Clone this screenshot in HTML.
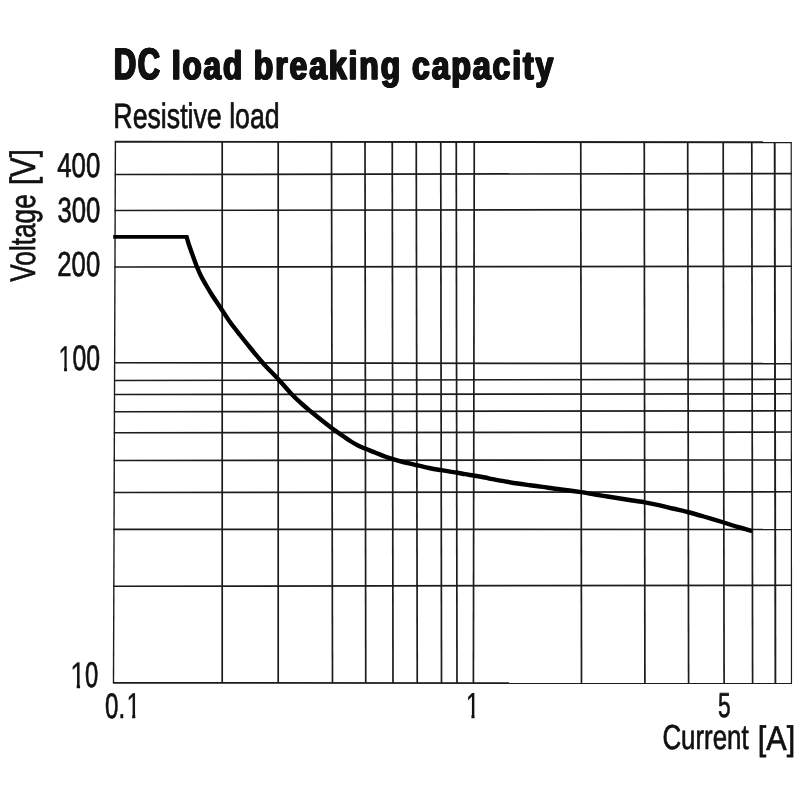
<!DOCTYPE html>
<html><head><meta charset="utf-8"><title>DC load breaking capacity</title>
<style>
html,body{margin:0;padding:0;background:#fff;}
body{width:800px;height:800px;overflow:hidden;font-family:"Liberation Sans",sans-serif;}
svg{display:block;}
text{font-family:"Liberation Sans",sans-serif;fill:#111;stroke:#111;vector-effect:non-scaling-stroke;stroke-linejoin:round;text-rendering:geometricPrecision;}
#wrap{will-change:transform;width:800px;height:800px;}
</style></head><body>
<div id="wrap"><svg width="800" height="800" viewBox="0 0 800 800">
<defs><clipPath id="one"><rect x="-10" y="-95" width="80" height="86"/><rect x="23.45" y="-10" width="12.25" height="14"/></clipPath></defs>
<rect width="800" height="800" fill="#fff"/>
<g stroke="#1c1c1c" fill="none">
<line x1="115.4" y1="141.75" x2="113.5" y2="682.90" stroke-width="1.4"/>
<line x1="222.2" y1="141.82" x2="222.2" y2="682.95" stroke-width="1.7"/>
<line x1="278.2" y1="141.86" x2="278.2" y2="682.97" stroke-width="1.7"/>
<line x1="331.5" y1="141.89" x2="332.5" y2="683.00" stroke-width="1.7"/>
<line x1="365.0" y1="141.92" x2="365.75" y2="683.01" stroke-width="1.7"/>
<line x1="392.25" y1="141.93" x2="393.0" y2="683.02" stroke-width="1.7"/>
<line x1="416.25" y1="141.95" x2="417.25" y2="683.03" stroke-width="1.7"/>
<line x1="440.75" y1="141.97" x2="441.5" y2="683.04" stroke-width="1.7"/>
<line x1="456.25" y1="141.98" x2="457.0" y2="683.05" stroke-width="1.7"/>
<line x1="474.25" y1="141.99" x2="473.4" y2="683.06" stroke-width="1.7"/>
<line x1="580.75" y1="142.06" x2="581.5" y2="683.11" stroke-width="1.7"/>
<line x1="644.25" y1="142.10" x2="644.9" y2="683.14" stroke-width="1.7"/>
<line x1="687.7" y1="142.13" x2="688.6" y2="683.15" stroke-width="1.7"/>
<line x1="723.2" y1="142.15" x2="724.1" y2="683.17" stroke-width="1.7"/>
<line x1="751.8" y1="142.17" x2="752.6" y2="683.18" stroke-width="1.7"/>
<line x1="774.7" y1="142.19" x2="775.4" y2="683.19" stroke-width="1.9"/>
<line x1="791.2" y1="142.20" x2="791.5" y2="683.20" stroke-width="1.2"/>
<line x1="114.80" y1="141.75" x2="791.70" y2="142.2" stroke-width="1.9"/>
<line x1="114.69" y1="174.5" x2="791.72" y2="173.6" stroke-width="1.7"/>
<line x1="114.56" y1="210.5" x2="791.74" y2="209.4" stroke-width="1.7"/>
<line x1="114.36" y1="267.0" x2="791.77" y2="266.25" stroke-width="1.7"/>
<line x1="114.02" y1="362.75" x2="791.82" y2="363.7" stroke-width="1.7"/>
<line x1="113.96" y1="380.5" x2="791.83" y2="379.25" stroke-width="1.7"/>
<line x1="113.91" y1="394.5" x2="791.84" y2="393.75" stroke-width="1.7"/>
<line x1="113.85" y1="411.75" x2="791.85" y2="410.75" stroke-width="1.7"/>
<line x1="113.78" y1="432.75" x2="791.86" y2="432.0" stroke-width="1.7"/>
<line x1="113.68" y1="460.5" x2="791.88" y2="460.0" stroke-width="1.7"/>
<line x1="113.57" y1="492.5" x2="791.89" y2="491.75" stroke-width="1.7"/>
<line x1="113.44" y1="529.4" x2="791.91" y2="529.5" stroke-width="1.7"/>
<line x1="113.24" y1="586.25" x2="791.95" y2="585.25" stroke-width="1.7"/>
<line x1="112.90" y1="682.9" x2="792.00" y2="683.2" stroke-width="1.8"/>
</g>
<path d="M113.2,236.9 L187.9,236.9" fill="none" stroke="#000" stroke-width="3.7"/>
<path d="M186.2,235.5 C186.38,236.13 186.83,237.72 187.3,239.3 C187.77,240.88 188.30,242.88 189,245 C189.70,247.12 190.67,249.67 191.5,252 C192.33,254.33 193.08,256.50 194,259 C194.92,261.50 195.83,264.17 197,267 C198.17,269.83 199.50,273.00 201,276 C202.50,279.00 204.17,281.83 206,285 C207.83,288.17 210.00,291.83 212,295 C214.00,298.17 216.33,301.50 218,304 C219.67,306.50 220.00,307.00 222,310 C224.00,313.00 227.00,317.83 230,322 C233.00,326.17 236.67,330.75 240,335 C243.33,339.25 246.33,343.00 250,347.5 C253.67,352.00 259.17,358.67 262,362 C264.83,365.33 264.17,364.50 267,367.5 C269.83,370.50 274.83,375.50 279,380 C283.17,384.50 288.17,390.50 292,394.5 C295.83,398.50 298.75,401.08 302,404 C305.25,406.92 308.17,409.25 311.5,412 C314.83,414.75 318.42,417.67 322,420.5 C325.58,423.33 329.50,426.42 333,429 C336.50,431.58 340.00,433.92 343,436 C346.00,438.08 348.33,439.83 351,441.5 C353.67,443.17 356.58,444.78 359,446 C361.42,447.22 362.83,447.72 365.5,448.8 C368.17,449.88 371.75,451.22 375,452.5 C378.25,453.78 382.00,455.38 385,456.5 C388.00,457.62 390.00,458.28 393,459.2 C396.00,460.12 399.33,461.07 403,462 C406.67,462.93 410.67,463.80 415,464.8 C419.33,465.80 424.58,467.10 429,468 C433.42,468.90 436.92,469.45 441.5,470.2 C446.08,470.95 452.58,471.83 456.5,472.5 C460.42,473.17 462.08,473.68 465,474.2 C467.92,474.72 470.67,475.05 474,475.6 C477.33,476.15 481.92,476.90 485,477.5 C488.08,478.10 489.17,478.55 492.5,479.2 C495.83,479.85 500.83,480.68 505,481.4 C509.17,482.12 513.33,482.86 517.5,483.5 C521.67,484.14 525.83,484.68 530,485.25 C534.17,485.82 538.33,486.32 542.5,486.9 C546.67,487.48 550.83,488.19 555,488.75 C559.17,489.31 563.12,489.68 567.5,490.25 C571.88,490.82 576.67,491.49 581.25,492.2 C585.83,492.91 590.62,493.78 595,494.5 C599.38,495.22 603.33,495.83 607.5,496.5 C611.67,497.17 615.83,497.83 620,498.5 C624.17,499.17 628.33,499.87 632.5,500.5 C636.67,501.13 640.83,501.58 645,502.3 C649.17,503.02 652.92,503.77 657.5,504.8 C662.08,505.83 667.33,507.26 672.5,508.5 C677.67,509.74 683.29,510.92 688.5,512.25 C693.71,513.58 697.88,514.79 703.75,516.5 C709.62,518.21 718.12,520.77 723.75,522.5 C729.38,524.23 732.73,525.48 737.5,526.9 C742.27,528.32 749.92,530.32 752.4,531" fill="none" stroke="#000" stroke-width="4.4" stroke-linejoin="round" stroke-linecap="butt"/>
<g>
<g id="t1"><text transform="translate(113.86,78.94) scale(0.7004,1)" font-size="44.06" font-weight="bold" stroke-width="1.1" letter-spacing="2.4">DC</text></g><use href="#t1" x="-0.55"/><use href="#t1" x="0.55"/>
<g id="t2"><text transform="translate(171.83,79.15) scale(0.7963,1)" font-size="39.46" font-weight="bold" stroke-width="1.1" letter-spacing="2.4">load</text></g><use href="#t2" x="-0.55"/><use href="#t2" x="0.55"/>
<g id="t3"><text transform="translate(253.81,79.15) scale(0.8075,1)" font-size="39.46" font-weight="bold" stroke-width="1.1" letter-spacing="2.4">breaking</text></g><use href="#t3" x="-0.55"/><use href="#t3" x="0.55"/>
<g id="t4"><text transform="translate(412.06,79.15) scale(0.8083,1)" font-size="39.46" font-weight="bold" stroke-width="1.1" letter-spacing="2.4">capacity</text></g><use href="#t4" x="-0.55"/><use href="#t4" x="0.55"/>
<text transform="translate(113.33,127.75) scale(0.7584,1)" font-size="35.24" font-weight="normal" stroke-width="0.7">Resistive load</text>
<text transform="translate(57.20,177.25) scale(0.7534,1)" font-size="34.29" font-weight="normal" stroke-width="0.7">400</text>
<text transform="translate(57.41,221.79) scale(0.7331,1)" font-size="35.06" font-weight="normal" stroke-width="0.7">300</text>
<text transform="translate(57.35,275.94) scale(0.7396,1)" font-size="34.71" font-weight="normal" stroke-width="0.7">200</text>
<g transform="translate(58.50,370.62) scale(0.2380,0.3617)" clip-path="url(#one)"><text font-size="100" stroke-width="0.7">1</text></g>
<text transform="translate(72.50,370.29) scale(0.7069,1)" font-size="35.13" font-weight="normal" stroke-width="0.7">00</text>
<g transform="translate(70.37,687.78) scale(0.2710,0.3698)" clip-path="url(#one)"><text font-size="100" stroke-width="0.7">1</text></g>
<text transform="translate(85.00,687.23) scale(0.6654,1)" font-size="35.77" font-weight="normal" stroke-width="0.7">0</text>
<text transform="translate(104.98,717.64) scale(0.6863,1)" font-size="35.20" font-weight="normal" stroke-width="0.7">0.</text>
<g transform="translate(126.38,718.02) scale(0.2487,0.3617)" clip-path="url(#one)"><text font-size="100" stroke-width="0.7">1</text></g>
<g transform="translate(465.63,718.02) scale(0.2487,0.3624)" clip-path="url(#one)"><text font-size="100" stroke-width="0.7">1</text></g>
<text transform="translate(718.05,717.29) scale(0.6546,1)" font-size="34.71" font-weight="normal" stroke-width="0.7">5</text>
<text transform="translate(662.38,749.34) scale(0.7491,1)" font-size="34.57" font-weight="normal" stroke-width="0.7">Current</text>
<text transform="translate(757.81,749.70) scale(0.8953,1)" font-size="34.08" font-weight="normal" stroke-width="0.7">[A]</text>
<text transform="translate(35.45,281.66) rotate(-90) scale(0.7399,1)" font-size="35.40" font-weight="normal" stroke-width="0.7">Voltage</text>
<text transform="translate(35.45,185.03) rotate(-90) scale(0.8289,1)" font-size="35.40" font-weight="normal" stroke-width="0.7">[V]</text>
</g>
</svg></div>
</body></html>
